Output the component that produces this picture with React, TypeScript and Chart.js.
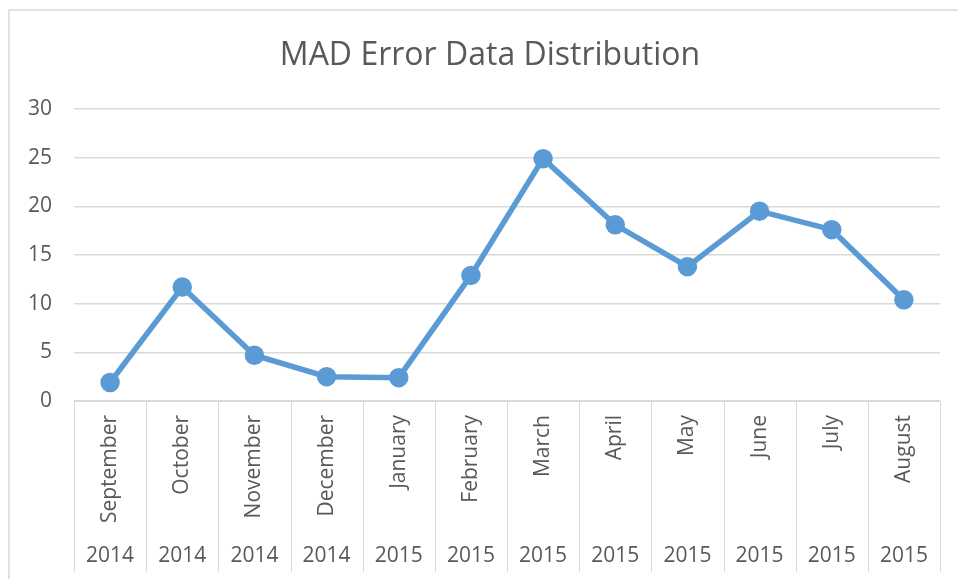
import React, { useEffect, useRef } from "react";
import { Chart, registerables } from "chart.js";

Chart.register(...registerables);

const TITLE = "MAD Error Data Distribution";
const months = ["September", "October", "November", "December", "January", "February", "March", "April", "May", "June", "July", "August"];
const years = ["2014", "2014", "2014", "2014", "2015", "2015", "2015", "2015", "2015", "2015", "2015", "2015"];
const madValues = [1.9, 11.7, 4.7, 2.5, 2.4, 12.9, 24.9, 18.1, 13.8, 19.5, 17.6, 10.4];
const yMin = 0;
const yMax = 30;
const yStep = 5;

const TEXT = "#595959";
const GRID = "#d9d9d9";
const LINE = "#5b9bd5";
const FONT = "'Open Sans', sans-serif";

const decorPlugin = {
  id: "decor",
  beforeDraw(chart: any) {
    const ctx = chart.ctx;
    ctx.save();
    ctx.fillStyle = "#ffffff";
    ctx.fillRect(0, 0, chart.width, chart.height);
    ctx.strokeStyle = GRID;
    ctx.lineWidth = 1.5;
    ctx.strokeRect(9, 10, chart.width + 20, chart.height + 20);
    ctx.restore();
  },
  afterDraw(chart: any) {
    const ctx = chart.ctx;
    const xs = chart.scales.x;
    const area = chart.chartArea;
    ctx.save();
    // title
    ctx.fillStyle = TEXT;
    ctx.font = `32px ${FONT}`;
    ctx.textAlign = "center";
    ctx.textBaseline = "middle";
    ctx.fillText(TITLE, 490, 56);
    ctx.strokeStyle = GRID;
    ctx.lineWidth = 1;
    // axis line
    ctx.beginPath();
    ctx.moveTo(area.left, Math.round(area.bottom) + 0.5);
    ctx.lineTo(area.right, Math.round(area.bottom) + 0.5);
    ctx.stroke();
    // separators
    const bottom = 572;
    for (let i = 0; i <= months.length; i++) {
      const x = Math.round(xs.getPixelForValue(i - 0.5)) + 0.5;
      ctx.beginPath();
      ctx.moveTo(x, area.bottom);
      ctx.lineTo(x, bottom);
      ctx.stroke();
    }
    // year labels
    ctx.fillStyle = TEXT;
    ctx.font = `21px ${FONT}`;
    ctx.textAlign = "center";
    ctx.textBaseline = "middle";
    years.forEach((yr, i) => {
      ctx.fillText(yr, xs.getPixelForValue(i), 556);
    });
    ctx.restore();
  },
};

export default function App() {
  const ref = useRef<HTMLCanvasElement | null>(null);
  useEffect(() => {
    if (!ref.current) return;
    const chart = new Chart(ref.current, {
      type: "line",
      data: {
        labels: months,
        datasets: [
          {
            data: madValues,
            borderColor: LINE,
            backgroundColor: LINE,
            borderWidth: 5.5,
            pointRadius: 7,
            pointBackgroundColor: LINE,
            pointBorderColor: LINE,
            tension: 0,
          },
        ],
      },
      options: {
        responsive: false,
        animation: false,
        devicePixelRatio: 1,
        layout: { padding: { left: 0, right: 18, top: 109, bottom: 0 } },
        plugins: {
          legend: { display: false },
          tooltip: { enabled: false },
          title: { display: false },
        },
        scales: {
          x: {
            offset: true,
            grid: { display: false, drawTicks: false },
            border: { display: false },
            ticks: {
              color: TEXT,
              font: { family: FONT, size: 21 },
              minRotation: 90,
              maxRotation: 90,
              padding: 14,
              autoSkip: false,
            },
            afterFit(scale: any) {
              scale.height = 178;
            },
          },
          y: {
            min: yMin,
            max: yMax,
            ticks: {
              stepSize: yStep,
              color: TEXT,
              font: { family: FONT, size: 21 },
              padding: 22,
            },
            grid: { color: GRID, lineWidth: 1.5, drawTicks: false },
            border: { display: false },
            afterFit(scale: any) {
              scale.width = 74;
            },
          },
        },
      },
      plugins: [decorPlugin],
    });
    return () => chart.destroy();
  }, []);
  return (
    <div style={{ position: "fixed", left: 0, top: 0, width: 958, height: 579, background: "#fff" }}>
      <canvas ref={ref} width={958} height={579} style={{ display: "block" }} />
    </div>
  );
}
